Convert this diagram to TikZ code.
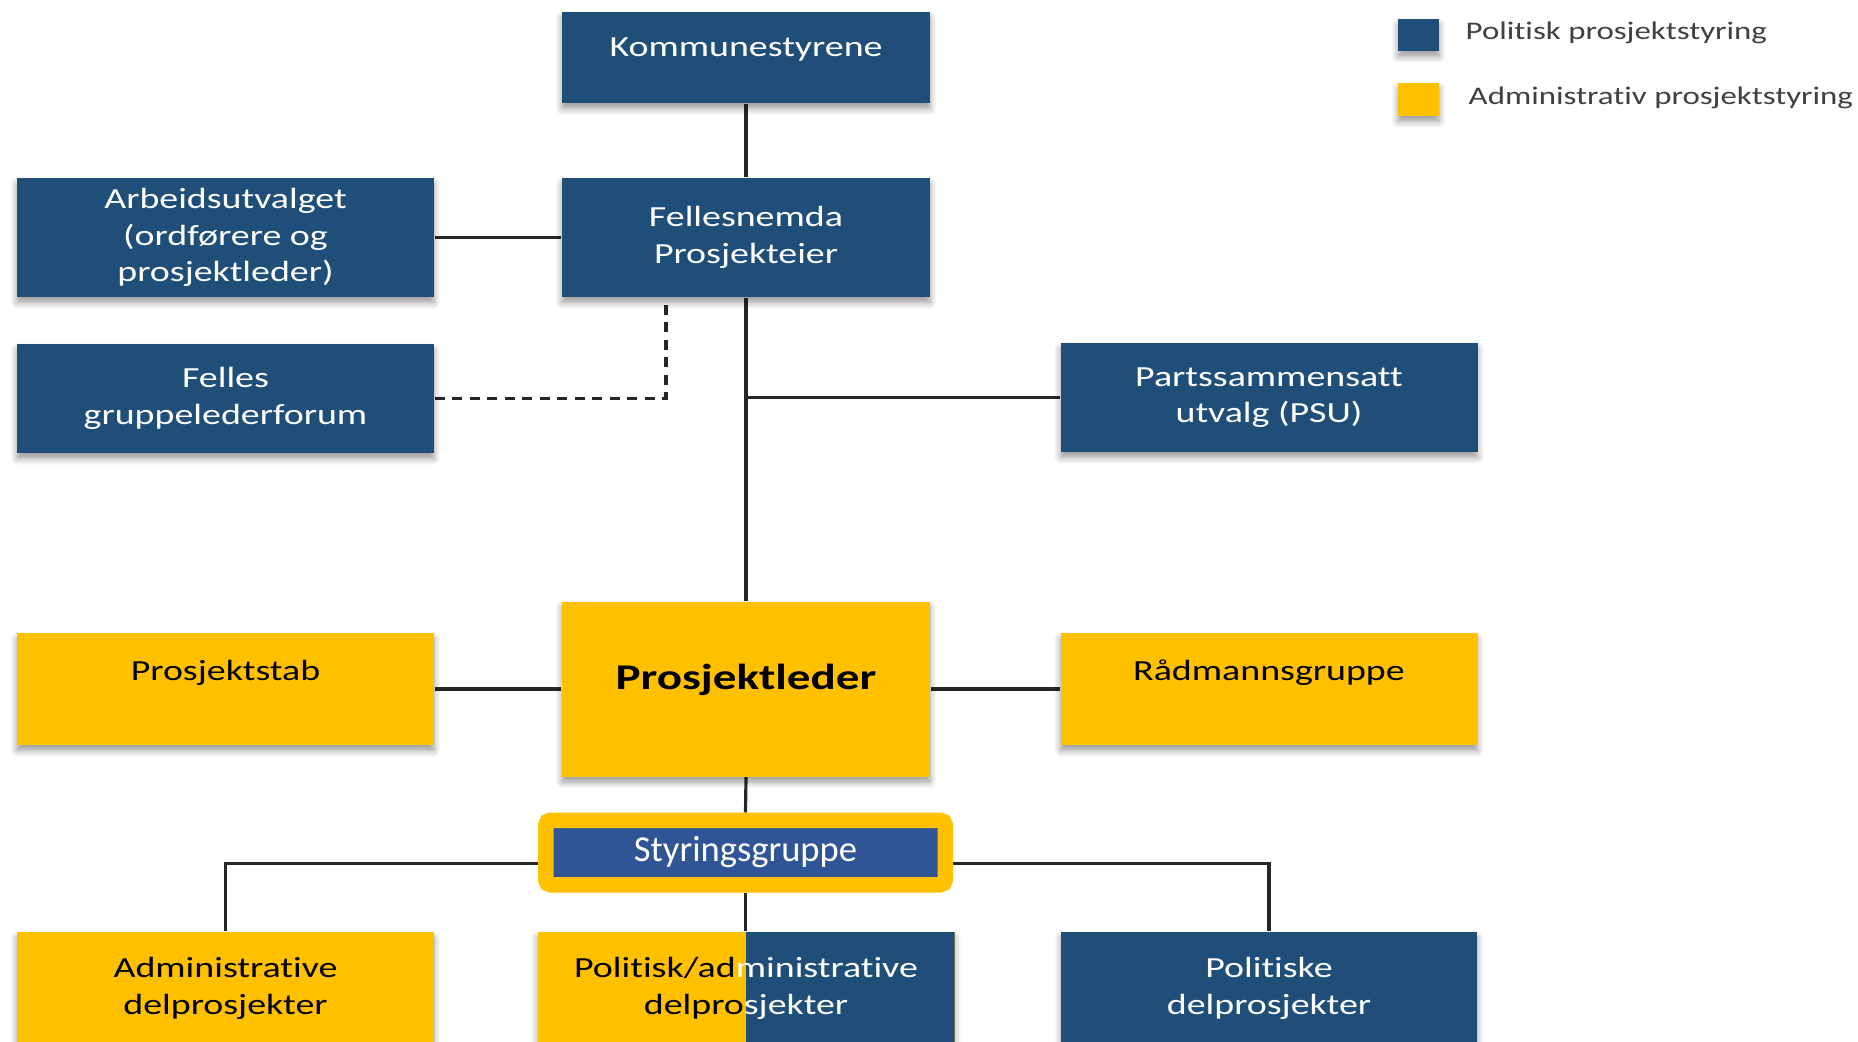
\documentclass[tikz,border=0pt]{standalone}
\usepackage{fontspec}
\setmainfont{Carlito}[FakeStretch=1.3, Ligatures=NoCommon]
\newfontfamily\plainfont{Carlito}
\usetikzlibrary{shadows.blur,backgrounds}
\definecolor{navy}{HTML}{1F4E79}
\definecolor{gold}{HTML}{FFC000}
\definecolor{midblue}{HTML}{2F5597}
\definecolor{linegray}{HTML}{262626}
\definecolor{legendgray}{HTML}{404040}

\begin{document}
\begin{tikzpicture}
  [box/.style={rectangle, inner sep=2pt, align=center, font=\fontsize{8.3}{10.4}\selectfont,
     blur shadow={shadow xshift=0pt, shadow yshift=-1.6pt, shadow blur steps=6}},
   pol/.style={box, fill=navy, text=white},
   adm/.style={box, fill=gold, text=black},
   wide/.style={minimum width=4.17cm},
   conn/.style={draw=linegray, line width=0.9pt},
   legtext/.style={anchor=west, inner sep=0pt, text=legendgray, font=\fontsize{7.2}{9}\selectfont}]
  \useasboundingbox (0,0) rectangle (18.58,-10.42);

  \node [pol, minimum width=3.68cm, minimum height=0.91cm, text depth=5.7pt] (komm) at (7.46,-0.575) {Kommunestyrene};
  \node [pol, wide, minimum height=1.19cm] (arb) at (2.255,-2.375) {Arbeidsutvalget\\(ordførere og\\prosjektleder)};
  \node [pol, minimum width=3.68cm, minimum height=1.19cm] (fell) at (7.46,-2.375) {Fellesnemda\\Prosjekteier};
  \node [pol, wide, minimum height=1.09cm] (grupp) at (2.255,-3.985) {Felles\\gruppelederforum};
  \node [pol, wide, minimum height=1.09cm] (psu) at (12.69,-3.975) {Partssammensatt\\utvalg (PSU)};

  \node [adm, wide, minimum height=1.12cm, text depth=10.8pt] (stab) at (2.255,-6.89) {Prosjektstab};
  \node [adm, minimum width=3.68cm, minimum height=1.75cm, text depth=6.8pt,
         font=\bfseries\fontsize{10.3}{12}\selectfont] (leder) at (7.46,-6.89) {Prosjektleder};
  \node [adm, wide, minimum height=1.12cm, text depth=10.8pt] (radm) at (12.69,-6.89) {Rådmannsgruppe};

  \node [draw=gold, line width=0.155cm, fill=midblue, rounded corners=0.05cm, text=white, inner sep=0pt,
         minimum width=3.995cm, minimum height=0.645cm,
         font=\plainfont\fontsize{10.4}{12}\selectfont] (styr) at (7.455,-8.525) {Styringsgruppe};

  \node [adm, wide, minimum height=1.13cm] (admin) at (2.255,-9.885) {Administrative\\delprosjekter};
  \node [adm, wide, minimum height=1.13cm, text=white,
         path picture={\fill[navy] (path picture bounding box.north) rectangle (path picture bounding box.south east);}]
         (polad) at (7.46,-9.885) {{\color{black}Politisk/ad}ministrative\\{\color{black}delpro}sjekter};
  \node [pol, minimum width=4.16cm, minimum height=1.13cm] (polit) at (12.69,-9.885) {Politiske\\delprosjekter};

  \node [pol, minimum width=0.41cm, minimum height=0.32cm, inner sep=0pt] (legpol) at (14.185,-0.35) {};
  \node [adm, minimum width=0.41cm, minimum height=0.33cm, inner sep=0pt] (legadm) at (14.185,-0.995) {};
  \node [legtext] (legpoltxt) at (14.65,-0.33) {Politisk prosjektstyring};
  \node [legtext] (legadmtxt) at (14.68,-0.98) {Administrativ prosjektstyring};

  \begin{scope}[on background layer]
    \draw [conn] (komm.south) -- (fell.north);
    \draw [conn] (arb.east) -- (fell.west);
    \draw [conn, dash pattern=on 0.1cm off 0.075cm] (grupp.east) -| ([xshift=-0.8cm]fell.south);
    \draw [conn] (fell.south) -- (leder.north);
    \draw [conn] (psu.west) -- (psu.west -| fell.south);
    \draw [conn] (stab.east) -- (leder.west);
    \draw [conn] (leder.east) -- (radm.west);
    \draw [conn] (leder.south) -- (styr.north);
    \draw [conn] ([yshift=-0.11cm]styr.west) -| (admin.north);
    \draw [conn] ([yshift=-0.11cm]styr.east) -| (polit.north);
    \draw [conn] (styr.south) -- (styr.south |- polad.north);
  \end{scope}
\end{tikzpicture}
\end{document}
